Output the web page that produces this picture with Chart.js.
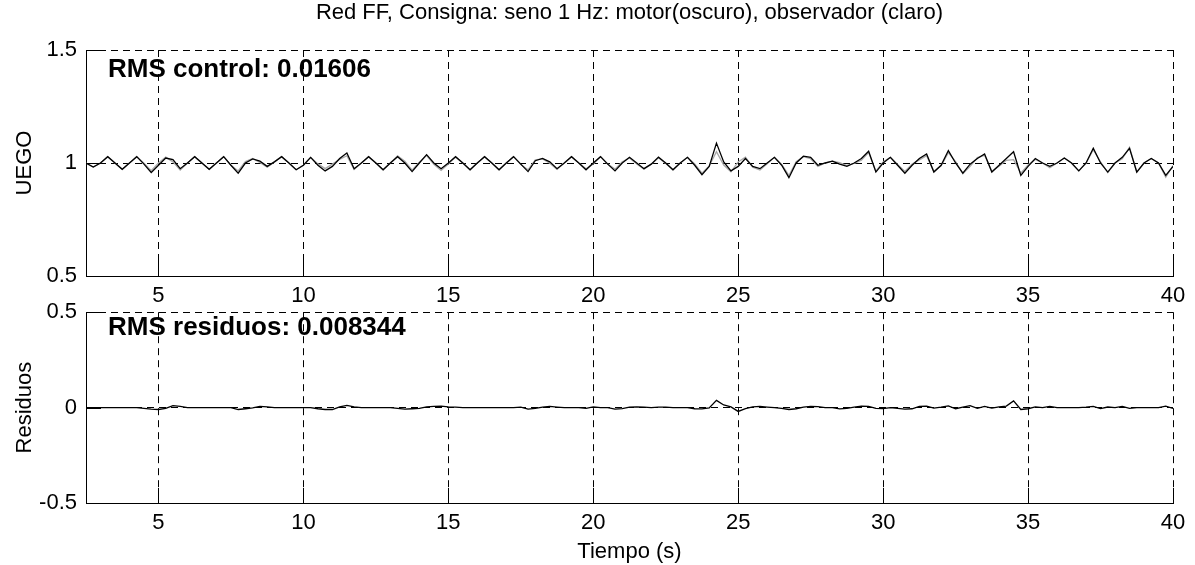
<!DOCTYPE html>
<html>
<head>
<meta charset="utf-8">
<title>Red FF - seno 1 Hz</title>
<script src="https://cdn.jsdelivr.net/npm/chart.js@4.4.1/dist/chart.umd.min.js"></script>
<style>
  html, body { margin: 0; padding: 0; background: #fff; }
  #wrap { position: relative; width: 1195px; height: 565px; overflow: hidden; }
  #wrap canvas { position: absolute; left: 0; }
  #cUego { top: 0; }
  #cRes { top: 290px; }
</style>
</head>
<body>
<div id="wrap">
  <canvas id="cUego" width="1195" height="310"></canvas>
  <canvas id="cRes" width="1195" height="275"></canvas>
</div>
<script>
// Sample grid: one sample every 0.25 s starting at t = 2.5 s
const T_START = 2.5;
const T_STEP = 0.25;

// UEGO reading of the engine (dark trace); rows hold t = n, n+.25, n+.5, n+.75
const uegoMotor = [
  1.000, 0.982,                          // 2.5
  1.000, 1.028, 1.000, 0.972,            // 3
  1.000, 1.028, 0.995, 0.958,            // 4
  0.990, 1.022, 1.015, 0.975,            // 5
  1.000, 1.028, 1.000, 0.972,            // 6
  1.000, 1.028, 0.990, 0.955,            // 7
  1.000, 1.018, 1.008, 0.985,            // 8
  1.005, 1.028, 1.000, 0.970,            // 9
  0.990, 1.025, 0.990, 0.965,            // 10
  0.985, 1.020, 1.044, 0.975,            // 11
  1.000, 1.028, 1.000, 0.970,            // 12
  1.000, 1.028, 1.000, 0.962,            // 13
  1.000, 1.037, 1.000, 0.975,            // 14
  1.000, 1.028, 1.000, 0.970,            // 15
  1.000, 1.028, 1.000, 0.970,            // 16
  1.000, 1.028, 0.995, 0.962,            // 17
  1.010, 1.020, 1.005, 0.975,            // 18
  1.000, 1.028, 1.000, 0.970,            // 19
  1.000, 1.028, 0.995, 0.965,            // 20
  1.000, 1.025, 1.000, 0.975,            // 21
  0.995, 1.026, 1.000, 0.970,            // 22
  1.000, 1.025, 0.990, 0.948,            // 23
  0.985, 1.088, 1.005, 0.965,            // 24
  0.985, 1.020, 0.985, 0.975,            // 25
  1.000, 1.025, 0.990, 0.935,            // 26
  1.000, 1.030, 1.025, 0.990,            // 27
  1.000, 1.008, 0.995, 0.985,            // 28
  1.000, 1.020, 1.052, 0.960,            // 29
  1.000, 1.025, 0.990, 0.955,            // 30
  0.990, 1.020, 1.040, 0.960,            // 31
  0.990, 1.055, 1.000, 0.955,            // 32
  0.995, 1.020, 1.040, 0.960,            // 33
  0.990, 1.020, 1.050, 0.945,            // 34
  0.985, 1.020, 1.000, 0.985,            // 35
  1.000, 1.022, 1.000, 0.965,            // 36
  1.000, 1.065, 1.000, 0.960,            // 37
  1.000, 1.025, 1.065, 0.960,            // 38
  1.000, 1.020, 1.000, 0.945,            // 39
  0.985                                  // 40
];

// Observer estimate (light trace)
const uegoObserver = [
  1.000, 0.982,                          // 2.5
  1.000, 1.028, 1.000, 0.972,            // 3
  1.000, 1.028, 0.999, 0.966,            // 4
  1.000, 1.026, 1.005, 0.969,            // 5
  1.000, 1.028, 1.000, 0.972,            // 6
  1.000, 1.028, 0.990, 0.965,            // 7
  1.006, 1.020, 1.002, 0.981,            // 8
  1.005, 1.028, 1.000, 0.970,            // 9
  0.990, 1.025, 0.996, 0.975,            // 10
  0.995, 1.016, 1.032, 0.971,            // 11
  1.000, 1.028, 1.000, 0.970,            // 12
  1.000, 1.032, 1.008, 0.968,            // 13
  1.004, 1.033, 0.994, 0.967,            // 14
  0.996, 1.026, 1.000, 0.970,            // 15
  1.000, 1.028, 1.000, 0.970,            // 16
  1.000, 1.028, 0.993, 0.970,            // 17
  1.014, 1.018, 0.999, 0.972,            // 18
  1.000, 1.028, 1.000, 0.974,            // 19
  0.996, 1.028, 0.995, 0.973,            // 20
  1.005, 1.022, 0.996, 0.973,            // 21
  0.995, 1.023, 0.998, 0.970,            // 22
  1.000, 1.025, 0.996, 0.955,            // 23
  0.987, 1.050, 0.991, 0.961,            // 24
  1.005, 1.026, 0.981, 0.969,            // 25
  0.997, 1.025, 0.994, 0.945,            // 26
  1.006, 1.028, 1.019, 0.985,            // 27
  1.000, 1.008, 1.002, 0.989,            // 28
  0.998, 1.012, 1.046, 0.964,            // 29
  1.005, 1.025, 0.994, 0.963,            // 30
  0.996, 1.014, 1.032, 0.963,            // 31
  0.988, 1.046, 1.006, 0.953,            // 32
  0.985, 1.024, 1.034, 0.963,            // 33
  0.986, 1.012, 1.015, 0.955,            // 34
  0.991, 1.016, 1.000, 0.979,            // 35
  1.000, 1.022, 1.000, 0.965,            // 36
  0.998, 1.059, 1.005, 0.957,            // 37
  1.000, 1.019, 1.069, 0.960,            // 38
  1.000, 1.020, 1.000, 0.937,            // 39
  0.989                                  // 40
];

// Residuals between engine and observer
const residuos = [
  0.000, 0.000,                          // 2.5
  0.000, 0.000, 0.000, 0.000,            // 3
  0.000, 0.000, -0.004, -0.008,          // 4
  -0.010, -0.004, 0.010, 0.006,          // 5
  0.000, 0.000, 0.000, 0.000,            // 6
  0.000, 0.000, 0.000, -0.010,           // 7
  -0.006, -0.002, 0.006, 0.004,          // 8
  0.000, 0.000, 0.000, 0.000,            // 9
  0.000, 0.000, -0.006, -0.010,          // 10
  -0.010, 0.004, 0.012, 0.004,           // 11
  0.000, 0.000, 0.000, 0.000,            // 12
  0.000, -0.004, -0.008, -0.006,         // 13
  -0.004, 0.004, 0.006, 0.008,           // 14
  0.004, 0.002, 0.000, 0.000,            // 15
  0.000, 0.000, 0.000, 0.000,            // 16
  0.000, 0.000, 0.002, -0.008,           // 17
  -0.004, 0.002, 0.006, 0.003,           // 18
  0.000, 0.000, 0.000, -0.004,           // 19
  0.004, 0.000, 0.000, -0.008,           // 20
  -0.005, 0.003, 0.004, 0.002,           // 21
  0.000, 0.003, 0.002, 0.000,            // 22
  0.000, 0.000, -0.006, -0.007,          // 23
  -0.002, 0.038, 0.014, 0.004,           // 24
  -0.020, -0.006, 0.004, 0.006,          // 25
  0.003, 0.000, -0.004, -0.010,          // 26
  -0.006, 0.002, 0.006, 0.005,           // 27
  0.000, 0.000, -0.007, -0.004,          // 28
  0.002, 0.008, 0.006, -0.004,           // 29
  -0.005, 0.000, -0.004, -0.008,         // 30
  -0.006, 0.006, 0.008, -0.003,          // 31
  0.002, 0.009, -0.006, 0.002,           // 32
  0.010, -0.004, 0.006, -0.003,          // 33
  0.004, 0.008, 0.035, -0.010,           // 34
  -0.006, 0.004, 0.000, 0.006,           // 35
  0.000, 0.000, 0.000, 0.000,            // 36
  0.002, 0.006, -0.005, 0.003,           // 37
  0.000, 0.006, -0.004, 0.000,           // 38
  0.000, 0.000, 0.000, 0.008,            // 39
  -0.004                                 // 40
];

// Axis ranges and tick labels
const X_MIN = 2.5, X_MAX = 40;
const X_TICKS = [5, 10, 15, 20, 25, 30, 35, 40];
const UEGO_TICKS = [0.5, 1, 1.5];
const RES_TICKS = [-0.5, 0, 0.5];

// Text
const TITLE = 'Red FF, Consigna: seno 1 Hz: motor(oscuro), observador (claro)';
const NOTE_UEGO = 'RMS control: 0.01606';
const NOTE_RES = 'RMS residuos: 0.008344';
const X_LABEL = 'Tiempo (s)';

const FONT = '"Liberation Sans", Arial, Helvetica, sans-serif';
Chart.defaults.font.family = FONT;
Chart.defaults.color = '#000';

const toPoints = ys => ys.map((y, i) => ({ x: T_START + i * T_STEP, y }));

// Inward tick marks on the bottom and left axes plus the bold RMS note
const axisDecor = {
  id: 'axisDecor',
  afterDatasetsDraw(chart, args, opts) {
    const { ctx, chartArea: a, scales: { x, y } } = chart;
    ctx.save();
    ctx.strokeStyle = '#000';
    ctx.lineWidth = 1;
    ctx.beginPath();
    x.ticks.forEach(t => {
      const px = Math.round(x.getPixelForValue(t.value)) + 0.5;
      ctx.moveTo(px, a.bottom);
      ctx.lineTo(px, a.bottom - opts.len);
    });
    y.ticks.forEach(t => {
      const py = Math.round(y.getPixelForValue(t.value)) + 0.5;
      ctx.moveTo(a.left, py);
      ctx.lineTo(a.left + opts.len, py);
    });
    ctx.stroke();
    ctx.font = 'bold 26px ' + FONT;
    ctx.fillStyle = '#000';
    ctx.textBaseline = 'alphabetic';
    ctx.textAlign = 'left';
    ctx.fillText(opts.note, x.getPixelForValue(opts.noteX), y.getPixelForValue(opts.noteY));
    ctx.restore();
  }
};

function xScale(height, title) {
  return {
    type: 'linear', min: X_MIN, max: X_MAX,
    afterBuildTicks: s => { s.ticks = X_TICKS.map(v => ({ value: v })); },
    afterFit: s => { s.height = height; },
    grid: { color: '#000', lineWidth: 1, drawTicks: false },
    border: { display: true, color: '#000', width: 1, dash: [7, 5] },
    ticks: { font: { size: 22 }, padding: 7, maxRotation: 0, autoSkip: false, callback: v => String(v) },
    title: title ? { display: true, text: title, font: { size: 22 }, padding: { top: 0, bottom: 0 } } : { display: false }
  };
}

function yScale(min, max, ticks, title) {
  return {
    type: 'linear', min, max,
    afterBuildTicks: s => { s.ticks = ticks.map(v => ({ value: v })); },
    afterFit: s => { s.width = 86; },
    grid: { color: '#000', lineWidth: 1, drawTicks: false },
    border: { display: true, color: '#000', width: 1, dash: [7, 5] },
    ticks: { font: { size: 22 }, padding: 9, callback: v => String(v) },
    title: { display: true, text: title, font: { size: 22 }, padding: { top: 12, bottom: 0 } }
  };
}

const lineStyle = { pointRadius: 0, tension: 0, fill: false };

new Chart(document.getElementById('cUego'), {
  type: 'line',
  data: {
    datasets: [
      { ...lineStyle, label: 'motor', data: toPoints(uegoMotor), borderColor: '#000', borderWidth: 1.3, order: 0 },
      { ...lineStyle, label: 'observador', data: toPoints(uegoObserver), borderColor: '#a8a8a8', borderWidth: 1.3, order: 1 }
    ]
  },
  options: {
    responsive: false, animation: false,
    layout: { padding: { left: 0, right: 22, top: 0, bottom: 0 } },
    scales: { x: xScale(34, null), y: yScale(0.5, 1.5, UEGO_TICKS, 'UEGO') },
    plugins: {
      legend: { display: false }, tooltip: { enabled: false },
      title: { display: true, text: TITLE, fullSize: false, color: '#000', font: { size: 22, weight: 'normal' }, padding: { top: 0, bottom: 23.6 } },
      axisDecor: { len: 15, note: NOTE_UEGO, noteX: 3.26, noteY: 1.381 }
    }
  },
  plugins: [axisDecor]
});

new Chart(document.getElementById('cRes'), {
  type: 'line',
  data: {
    datasets: [
      { ...lineStyle, label: 'residuos', data: toPoints(residuos), borderColor: '#000', borderWidth: 1.3 }
    ]
  },
  options: {
    responsive: false, animation: false,
    layout: { padding: { left: 0, right: 22, top: 0, bottom: 0 } },
    scales: { x: xScale(62, X_LABEL), y: yScale(-0.5, 0.5, RES_TICKS, 'Residuos') },
    plugins: {
      legend: { display: false }, tooltip: { enabled: false },
      axisDecor: { len: 15, note: NOTE_RES, noteX: 3.26, noteY: 0.38 }
    }
  },
  plugins: [axisDecor]
});
</script>
</body>
</html>
